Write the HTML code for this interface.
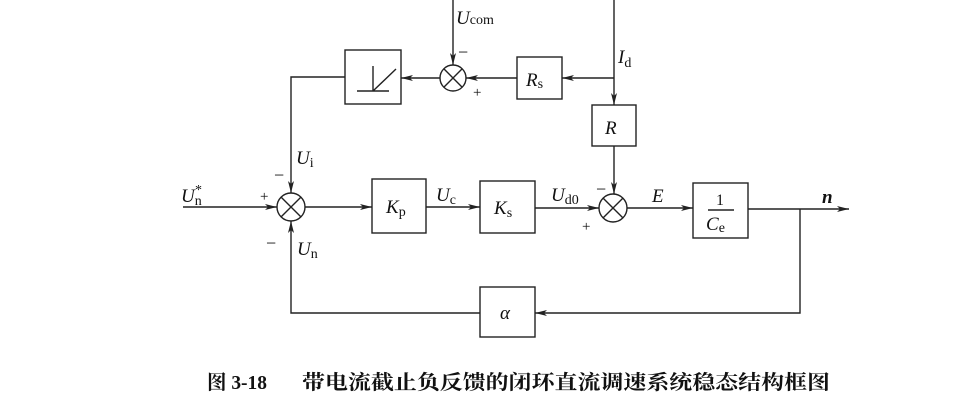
<!DOCTYPE html>
<html><head><meta charset="utf-8"><style>
html,body{margin:0;padding:0;background:#fff;}
svg{display:block;}
text{font-family:"Liberation Serif","Noto Serif CJK SC",serif;fill:#111;}
.i{font-style:italic;}
</style></head><body>
<svg width="980" height="403" viewBox="0 0 980 403" xmlns="http://www.w3.org/2000/svg">
<defs><marker id="a" markerWidth="12" markerHeight="6" refX="12" refY="3" orient="auto" markerUnits="userSpaceOnUse"><path d="M0,0 L12,3 L0,6 L3,3 z" fill="#222"/></marker></defs>
<g stroke="#222" stroke-width="1.4" fill="none">
<rect x="345" y="50" width="56" height="54"/>
<path d="M357,91 H389 M373,91 V66 M373,91 L396,69"/>
<rect x="517" y="57" width="45" height="42"/>
<rect x="592" y="105" width="44" height="41"/>
<rect x="372" y="179" width="54" height="54"/>
<rect x="480" y="181" width="55" height="52"/>
<rect x="693" y="183" width="55" height="55"/>
<rect x="480" y="287" width="55" height="50"/>
<circle cx="453" cy="78" r="13"/>
<path d="M443.8,68.8 L462.2,87.2 M462.2,68.8 L443.8,87.2"/>
<circle cx="291" cy="207" r="14"/>
<path d="M281.1,197.1 L300.9,216.9 M300.9,197.1 L281.1,216.9"/>
<circle cx="613" cy="208" r="14"/>
<path d="M603.1,198.1 L622.9,217.9 M622.9,198.1 L603.1,217.9"/>
<line x1="453" y1="0" x2="453" y2="65" marker-end="url(#a)"/>
<line x1="614" y1="0" x2="614" y2="105" marker-end="url(#a)"/>
<line x1="614" y1="78" x2="562" y2="78" marker-end="url(#a)"/>
<line x1="517" y1="78" x2="466" y2="78" marker-end="url(#a)"/>
<line x1="440" y1="78" x2="401" y2="78" marker-end="url(#a)"/>
<path d="M345,77 H291 V193" marker-end="url(#a)"/>
<line x1="614" y1="146" x2="614" y2="194" marker-end="url(#a)"/>
<line x1="183" y1="207" x2="277" y2="207" marker-end="url(#a)"/>
<line x1="305" y1="207" x2="372" y2="207" marker-end="url(#a)"/>
<line x1="426" y1="207" x2="480" y2="207" marker-end="url(#a)"/>
<line x1="535" y1="208" x2="599" y2="208" marker-end="url(#a)"/>
<line x1="627" y1="208" x2="693" y2="208" marker-end="url(#a)"/>
<line x1="748" y1="209" x2="849" y2="209" marker-end="url(#a)"/>
<path d="M800,209 V313 H535" marker-end="url(#a)"/>
<path d="M480,313 H291 V221" marker-end="url(#a)"/>
<line x1="708" y1="210" x2="734" y2="210"/>
</g>
<g font-size="19">
<text x="456" y="24" class="i">U<tspan font-size="14" font-style="normal">com</tspan></text>
<text x="458" y="58" font-size="18">−</text>
<text x="473" y="97" font-size="15">+</text>
<text x="618" y="63" class="i">I<tspan font-size="14" font-style="normal" dy="4">d</tspan></text>
<text x="526" y="86" class="i">R<tspan font-size="14" font-style="normal" dy="2">s</tspan></text>
<text x="605" y="134" class="i">R</text>
<text x="296" y="164" class="i">U<tspan font-size="14" font-style="normal" dy="3">i</tspan></text>
<text x="274" y="181" font-size="18">−</text>
<text x="181" y="202" class="i">U<tspan font-size="14" font-style="normal" dy="3">n</tspan></text>
<text x="195" y="194" font-size="14">*</text>
<text x="260" y="201" font-size="15">+</text>
<text x="266" y="249" font-size="18">−</text>
<text x="297" y="255" class="i">U<tspan font-size="14" font-style="normal" dy="3">n</tspan></text>
<text x="386" y="213" class="i">K<tspan font-size="14" font-style="normal" dy="3">p</tspan></text>
<text x="436" y="201" class="i">U<tspan font-size="14" font-style="normal" dy="3">c</tspan></text>
<text x="494" y="214" class="i">K<tspan font-size="14" font-style="normal" dy="3">s</tspan></text>
<text x="551" y="201" class="i">U<tspan font-size="14" font-style="normal" dy="3">d0</tspan></text>
<text x="596" y="195" font-size="18">−</text>
<text x="582" y="231" font-size="15">+</text>
<text x="652" y="202" class="i">E</text>
<text x="716" y="205" font-size="16">1</text>
<text x="706" y="230" class="i">C<tspan font-size="14" font-style="normal" dy="2">e</tspan></text>
<text x="822" y="203" class="i" font-weight="bold">n</text>
<text x="500" y="319" class="i">α</text>
</g>
<g font-size="20" font-weight="bold" fill="#333">
<text x="207" y="389" textLength="60" lengthAdjust="spacingAndGlyphs">图 3-18</text>
<text x="302" y="389" textLength="528" lengthAdjust="spacingAndGlyphs">带电流截止负反馈的闭环直流调速系统稳态结构框图</text>
</g>
</svg>
</body></html>
